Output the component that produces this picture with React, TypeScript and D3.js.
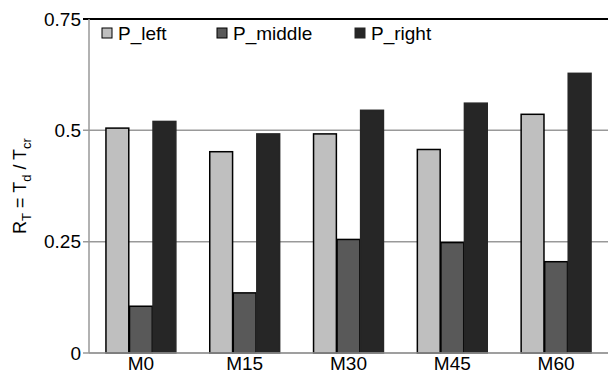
import React from 'react';
import * as d3 from 'd3';

const categories = ['M0', 'M15', 'M30', 'M45', 'M60'];
const seriesNames = ['P_left', 'P_middle', 'P_right'];
const pLeft = [0.505, 0.452, 0.492, 0.457, 0.536];
const pMiddle = [0.105, 0.135, 0.255, 0.248, 0.205];
const pRight = [0.52, 0.492, 0.545, 0.561, 0.628];
const yTicks = [0, 0.25, 0.5, 0.75];
const yTickLabels = ['0', '0.25', '0.5', '0.75'];

const colors = ['#bfbfbf', '#595959', '#262626'];
const font = 'Liberation Sans, Arial, sans-serif';

const App = () => {
  const width = 608;
  const height = 375;
  const margin = { top: 19, right: 0, bottom: 22, left: 89 };
  const series = [pLeft, pMiddle, pRight];

  const x = d3.scaleBand().domain(categories).range([margin.left, width - margin.right]).paddingInner(0).paddingOuter(0);
  const inner = d3.scaleBand().domain(seriesNames).range([0, x.bandwidth()]).paddingInner(0.03).paddingOuter(0.72);
  const y = d3.scaleLinear().domain([0, 0.75]).range([height - margin.bottom, margin.top]);

  return (
    <svg width={width} height={height} style={{ position: 'absolute', left: 0, top: 0 }}>
      {/* grid */}
      {yTicks.map((t, i) => (
        <g key={'t' + i}>
          <line
            x1={margin.left - 6}
            x2={width}
            y1={y(t)}
            y2={y(t)}
            stroke={t === 0.75 ? '#000' : '#999'}
            strokeWidth={t === 0.75 ? 2 : 1.5}
          />
          <text x={margin.left - 8} y={y(t)} dy="0.35em" textAnchor="end" fontFamily={font} fontSize={19} fill="#000">
            {yTickLabels[i]}
          </text>
        </g>
      ))}
      <line x1={margin.left} x2={margin.left} y1={margin.top} y2={y(0)} stroke="#999" strokeWidth={1.5} />

      {/* bars */}
      {categories.map((c, ci) => (
        <g key={c} transform={`translate(${x(c)},0)`}>
          {seriesNames.map((s, si) => (
            <rect
              key={s}
              x={inner(s)}
              y={y(series[si][ci])}
              width={inner.bandwidth()}
              height={y(0) - y(series[si][ci])}
              fill={colors[si]}
              stroke={si === 2 ? '#262626' : '#000'}
              strokeWidth={1.5}
            />
          ))}
          <text x={x.bandwidth() / 2} y={height - 5} textAnchor="middle" fontFamily={font} fontSize={19} fill="#000">
            {c}
          </text>
        </g>
      ))}
      <line x1={margin.left} x2={width} y1={y(0)} y2={y(0)} stroke="#999" strokeWidth={1.5} />

      {/* legend */}
      {seriesNames.map((s, i) => {
        const lx = [102, 217, 355][i];
        return (
          <g key={s} transform={`translate(${lx},33)`}>
            <rect x={0} y={-5} width={10} height={10} fill={colors[i]} stroke={i === 2 ? '#262626' : '#000'} strokeWidth={1} />
            <text x={16} y={0} dy="0.35em" fontFamily={font} fontSize={19} fill="#000">
              {s}
            </text>
          </g>
        );
      })}

      {/* y label */}
      <text transform={`translate(26,${(margin.top + y(0)) / 2}) rotate(-90)`} textAnchor="middle" fontFamily={font} fontSize={18} fill="#000">
        R<tspan fontSize={13} dy={5}>T</tspan>
        <tspan dy={-5}> = T</tspan>
        <tspan fontSize={13} dy={5}>d</tspan>
        <tspan dy={-5}> / T</tspan>
        <tspan fontSize={13} dy={5}>cr</tspan>
      </text>
    </svg>
  );
};

export default App;
